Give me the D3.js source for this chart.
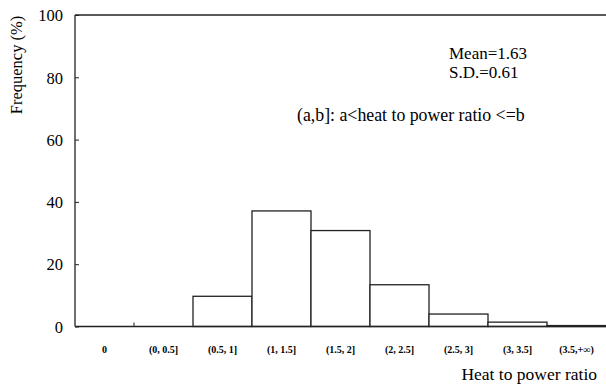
<!DOCTYPE html>
<html>
<head>
<meta charset="utf-8">
<script src="https://cdn.jsdelivr.net/npm/d3@7"></script>
<style>
  body { margin: 0; background: #fff; }
  svg text { font-family: 'Liberation Serif', 'Times New Roman', serif; fill: #000; }
</style>
</head>
<body>
<div id="chart"></div>
<script>
const categories = ['0', '(0, 0.5]', '(0.5, 1]', '(1, 1.5]', '(1.5, 2]', '(2, 2.5]', '(2.5, 3]', '(3, 3.5]', '(3.5,+\u221e)']
const frequency = [0, 0, 9.7, 37.1, 30.8, 13.4, 4.0, 1.4, 0.3]
const yTicks = [0, 20, 40, 60, 80, 100]

const width = 606, height = 390
const margin = { top: 15, right: 0, bottom: 63.5, left: 75 }
const plotW = width - margin.left - margin.right
const plotH = height - margin.top - margin.bottom

const svg = d3.select('#chart').append('svg')
    .attr('width', width)
    .attr('height', height)

const g = svg.append('g')
    .attr('transform', 'translate(' + margin.left + ',' + margin.top + ')')

const x = d3.scaleBand().domain(categories).range([0, plotW]).padding(0)
const y = d3.scaleLinear().domain([0, 100]).range([plotH, 0])

// bars
g.selectAll('rect.bar')
    .data(categories.map((c, i) => ({ c, v: frequency[i] })))
    .enter()
    .append('rect')
    .attr('class', 'bar')
    .attr('x', d => x(d.c))
    .attr('y', d => y(d.v))
    .attr('width', x.bandwidth())
    .attr('height', d => plotH - y(d.v))
    .attr('fill', '#fff')
    .attr('stroke', '#222')
    .attr('stroke-width', 1.3)

// y axis, ticks pointing inward
const yAxis = g.append('g')
    .call(d3.axisRight(y).tickValues(yTicks).tickSize(4).tickFormat(d3.format('d')))
yAxis.select('.domain').attr('stroke', '#222').attr('stroke-width', 1.3).attr('d', 'M0,0V' + plotH)
yAxis.selectAll('.tick line').attr('stroke', '#222')
yAxis.selectAll('.tick text')
    .attr('x', -12)
    .attr('dy', '0.35em')
    .style('text-anchor', 'end')
    .style('font-size', '16.5px')

// top border and baseline
g.append('line')
    .attr('x1', 0).attr('x2', plotW)
    .attr('y1', y(100)).attr('y2', y(100))
    .attr('stroke', '#222').attr('stroke-width', 1.3)
g.append('line')
    .attr('x1', 0).attr('x2', plotW)
    .attr('y1', y(0)).attr('y2', y(0))
    .attr('stroke', '#222').attr('stroke-width', 1.3)

// small inward tick between the first two classes
g.append('line')
    .attr('x1', x(categories[1])).attr('x2', x(categories[1]))
    .attr('y1', y(0)).attr('y2', y(0) - 4)
    .attr('stroke', '#222').attr('stroke-width', 1)

// x axis labels
const xAxis = g.append('g')
    .attr('transform', 'translate(0,' + plotH + ')')
    .call(d3.axisBottom(x).tickSize(0).tickPadding(19))
xAxis.select('.domain').remove()
xAxis.selectAll('.tick text')
    .style('font-size', '10px')
    .style('font-weight', 'bold')

// axis titles
svg.append('text')
    .attr('transform', 'translate(22,65) rotate(-90)')
    .style('text-anchor', 'middle')
    .style('font-size', '16.5px')
    .text('Frequency (%)')

svg.append('text')
    .attr('x', 597).attr('y', 380)
    .style('text-anchor', 'end')
    .style('font-size', '17.5px')
    .text('Heat to power ratio')

// annotations
svg.append('text')
    .attr('x', 449).attr('y', 59)
    .style('font-size', '17px')
    .text('Mean=1.63')
svg.append('text')
    .attr('x', 449).attr('y', 78)
    .style('font-size', '17px')
    .text('S.D.=0.61')
svg.append('text')
    .attr('x', 297).attr('y', 121)
    .style('font-size', '17.8px')
    .text('(a,b]: a<heat to power ratio <=b')
</script>
</body>
</html>
